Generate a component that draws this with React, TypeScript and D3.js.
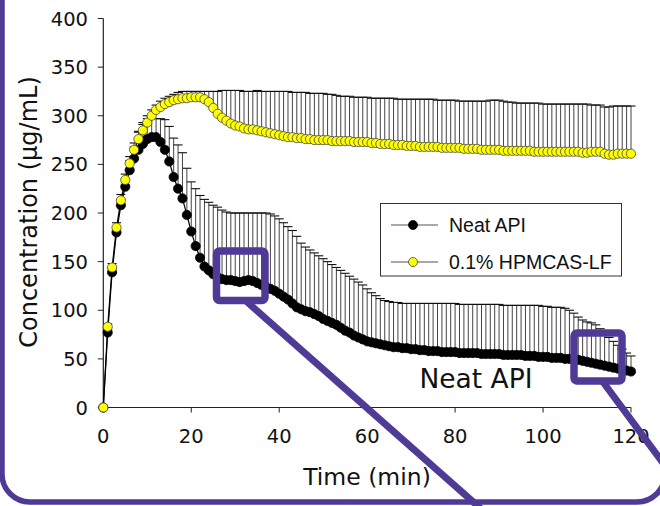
import React from "react";
import * as d3 from "d3";

// time points (min), one per minute 0..120
const times: number[] = d3.range(0, 121);

// Neat API mean concentration (µg/mL)
const neatMean: number[] = [
  0, 77, 139, 180, 208, 227, 244, 256, 265, 271,
  276, 278, 278, 273, 265, 253, 237, 225, 215, 198,
  181, 166, 154, 145, 141, 137, 134, 132, 131, 131,
  130, 129, 130, 131, 130, 128, 126, 124, 122, 120,
  117, 114, 111, 107, 103, 101, 99, 98, 96, 94,
  91, 89, 87, 85, 82, 79, 77, 74, 72, 70,
  68, 67, 66, 65, 64, 63, 62, 62, 61, 61,
  60, 60, 59, 59, 58, 58, 58, 57, 57, 57,
  57, 56, 56, 56, 56, 56, 55, 55, 55, 55,
  55, 54, 54, 54, 54, 54, 53, 53, 53, 52,
  52, 52, 51, 51, 51, 50, 50, 49, 49, 48,
  47, 46, 45, 44, 43, 42, 41, 40, 39, 38,
  37,
];

// Neat API upper error limit (mean + SD)
const neatUpper: number[] = [
  0, 80, 143, 185, 214, 235, 254, 268, 283, 291,
  297, 298, 297, 297, 296, 289, 277, 270, 262, 246,
  232, 225, 218, 214, 211, 208, 206, 203, 201, 200,
  200, 200, 200, 200, 200, 200, 200, 200, 199, 197,
  194, 190, 186, 182, 176, 169, 165, 162, 159, 156,
  153, 150, 147, 144, 141, 138, 135, 132, 129, 126,
  122, 118, 115, 112, 110, 109, 108, 108, 107, 107,
  107, 107, 107, 107, 107, 107, 107, 107, 107, 107,
  107, 106, 106, 106, 106, 106, 106, 106, 106, 106,
  106, 105, 105, 105, 105, 105, 105, 105, 105, 105,
  104, 104, 103, 103, 103, 102, 100, 97, 93, 90,
  88, 87, 85, 81, 77, 72, 68, 64, 60, 56,
  53,
];

// 0.1% HPMCAS-LF mean concentration (µg/mL)
const hpmcMean: number[] = [
  0, 83, 144, 185, 213, 234, 251, 265, 276, 285,
  293, 300, 306, 309, 312, 314, 316, 317, 318, 318,
  319, 319, 319, 317, 314, 308, 302, 298, 295, 292,
  290, 289, 287, 286, 286, 285, 284, 283, 282, 281,
  280, 279, 278, 278, 277, 277, 276, 276, 275, 275,
  275, 275, 274, 274, 274, 274, 274, 273, 273, 273,
  273, 272, 272, 271, 271, 271, 270, 270, 270, 269,
  269, 269, 268, 268, 268, 268, 268, 267, 267, 267,
  267, 267, 266, 266, 266, 266, 265, 265, 265, 265,
  265, 264, 264, 264, 264, 264, 264, 264, 263, 263,
  263, 263, 263, 263, 263, 263, 263, 263, 263, 262,
  262, 263, 263, 263, 261, 260, 260, 261, 261, 261,
  261,
];

// 0.1% HPMCAS-LF upper error limit (mean + SD)
const hpmcUpper: number[] = [
  0, 86, 148, 190, 219, 240, 258, 272, 284, 293,
  300, 306, 311, 315, 318, 320, 322, 324, 325, 325,
  325, 325, 325, 325, 325, 325, 325, 326, 326, 326,
  326, 326, 325, 325, 325, 326, 325, 325, 325, 325,
  325, 325, 325, 324, 324, 324, 324, 323, 323, 323,
  323, 322, 322, 321, 320, 320, 320, 319, 319, 319,
  319, 318, 318, 318, 318, 318, 318, 317, 317, 317,
  317, 317, 317, 317, 317, 317, 316, 316, 316, 316,
  316, 315, 315, 315, 315, 315, 315, 315, 316, 316,
  316, 315, 314, 314, 313, 313, 313, 313, 313, 313,
  312, 312, 312, 312, 312, 312, 312, 312, 312, 312,
  312, 311, 311, 311, 309, 309, 310, 310, 310, 310,
  310,
];

const xTicks: number[] = [0, 20, 40, 60, 80, 100, 120];
const yTicks: number[] = [0, 50, 100, 150, 200, 250, 300, 350, 400];
const seriesNames: string[] = ["Neat API", "0.1% HPMCAS-LF"];

const W = 660;
const H = 506;
const x = d3.scaleLinear().domain([0, 120]).range([103.3, 631]);
const y = d3.scaleLinear().domain([0, 400]).range([407.5, 18.5]);

const PURPLE = "#4f3a95";
const TICK_FONT = "'DejaVu Sans', Verdana, sans-serif";
const LEG_FONT = "'Liberation Sans', Arial, sans-serif";

type Series = { mean: number[]; upper: number[]; fill: string; stroke: string };

function SeriesLayer({ s }: { s: Series }) {
  const line = d3
    .line<number>()
    .x((_, i) => x(times[i]))
    .y((d) => y(d));
  return (
    <g>
      {s.mean.map((m, i) => {
        const up = s.upper[i];
        if (up <= m) return null;
        const cx = x(times[i]);
        return (
          <g key={"e" + i}>
            <line x1={cx} x2={cx} y1={y(m)} y2={y(up)} stroke="#444" strokeWidth={1} />
            <line x1={cx - 4.5} x2={cx + 4.5} y1={y(up)} y2={y(up)} stroke="#111" strokeWidth={1.1} />
          </g>
        );
      })}
      <path d={line(s.mean) || ""} fill="none" stroke="#000" strokeWidth={1.2} />
      {s.mean.map((m, i) => (
        <circle
          key={"c" + i}
          cx={x(times[i])}
          cy={y(m)}
          r={4.6}
          fill={s.fill}
          stroke={s.stroke}
          strokeWidth={0.8}
        />
      ))}
    </g>
  );
}

export default function App() {
  const neat: Series = { mean: neatMean, upper: neatUpper, fill: "#000", stroke: "#000" };
  const hpmc: Series = { mean: hpmcMean, upper: hpmcUpper, fill: "#ffff00", stroke: "#444" };
  return (
    <svg
      width={W}
      height={H}
      style={{ position: "absolute", left: 0, top: 0, background: "#fff" }}
    >
      <rect x={0} y={0} width={W} height={H} fill="#fff" />
      {/* axes */}
      <line x1={x(0)} x2={x(0)} y1={y(0)} y2={y(400)} stroke="#222" strokeWidth={1.2} />
      <line x1={x(0)} x2={x(120)} y1={y(0)} y2={y(0)} stroke="#222" strokeWidth={1.2} />
      {yTicks.map((t) => (
        <g key={"yt" + t}>
          <line x1={x(0) - 5.5} x2={x(0)} y1={y(t)} y2={y(t)} stroke="#222" strokeWidth={1} />
          <text
            x={88}
            y={y(t)}
            dy="0.36em"
            textAnchor="end"
            fontFamily={TICK_FONT}
            fontSize={19.5}
            fill="#111"
          >
            {t}
          </text>
        </g>
      ))}
      {xTicks.map((t) => (
        <g key={"xt" + t}>
          <line x1={x(t)} x2={x(t)} y1={y(0)} y2={y(0) + 5} stroke="#222" strokeWidth={1} />
          <text
            x={x(t)}
            y={443}
            textAnchor="middle"
            fontFamily={TICK_FONT}
            fontSize={19.5}
            fill="#111"
          >
            {t}
          </text>
        </g>
      ))}
      <text
        transform="translate(37,212) rotate(-90)"
        textAnchor="middle"
        fontFamily={TICK_FONT}
        fontSize={24}
        fill="#111"
      >
        Concentration (µg/mL)
      </text>
      <text x={367} y={485} textAnchor="middle" fontFamily={TICK_FONT} fontSize={23.5} fill="#111">
        Time (min)
      </text>

      <SeriesLayer s={neat} />
      <SeriesLayer s={hpmc} />

      {/* legend */}
      <rect x={380.5} y={203.5} width={241} height={72.5} fill="#fff" stroke="#333" strokeWidth={1} />
      {[neat, hpmc].map((s, i) => {
        const ly = 225 + i * 37;
        return (
          <g key={"lg" + i}>
            <line x1={391} x2={438} y1={ly} y2={ly} stroke="#555" strokeWidth={1.2} />
            <circle cx={413} cy={ly} r={4.5} fill={s.fill} stroke={s.stroke} strokeWidth={0.8} />
            <text x={449} y={ly + 7} fontFamily={LEG_FONT} fontSize={19.5} fill="#111">
              {seriesNames[i]}
            </text>
          </g>
        );
      })}

      <text x={476} y={388} textAnchor="middle" fontFamily={TICK_FONT} fontSize={26.5} fill="#111">
        Neat API
      </text>

      {/* purple annotations */}
      <rect x={2} y={-40} width={663} height={542} rx={28} fill="none" stroke={PURPLE} strokeWidth={5.5} />
      <rect x={216.5} y={251} width={48.5} height={49.5} rx={3} fill="none" stroke={PURPLE} strokeWidth={7.5} />
      <rect x={574} y={333} width={48} height={48} rx={3} fill="none" stroke={PURPLE} strokeWidth={7.5} />
      <line x1={246} x2={488} y1={301} y2={515} stroke={PURPLE} strokeWidth={7} />
      <line x1={603} x2={683} y1={382} y2={490} stroke={PURPLE} strokeWidth={7} />
    </svg>
  );
}
